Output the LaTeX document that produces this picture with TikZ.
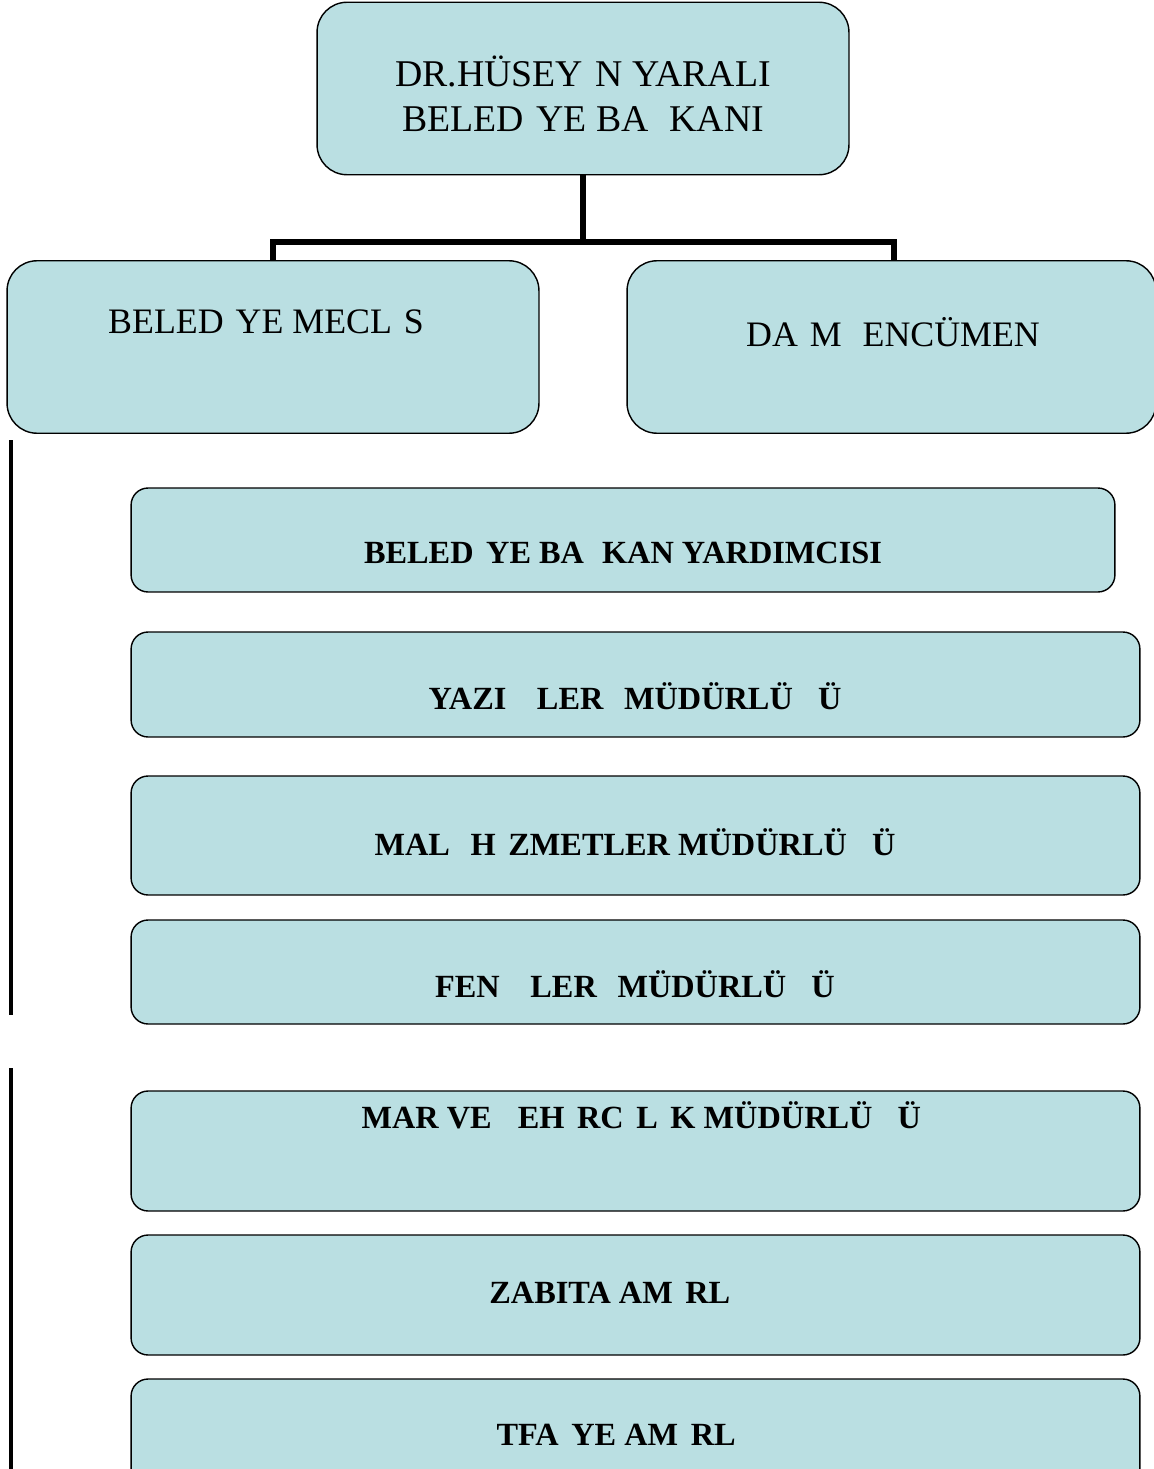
\documentclass[tikz,border=0pt]{standalone}
\usepackage{fontspec}
\setmainfont{Liberation Serif}
\usetikzlibrary{positioning}
\definecolor{boxfill}{RGB}{186,223,226}
\newcommand{\miss}[1]{\phantom{#1}}
\tikzstyle{rec} = [rectangle,draw=black,fill=boxfill,line width=0.8pt]

\begin{document}
\begin{tikzpicture}
		[x=0.02cm,y=-0.02cm,
		big/.style={rec,rounded corners=0.6cm,minimum width=10.64cm,minimum height=3.45cm},
		unit/.style={rec,rounded corners=0.34cm,minimum width=20.18cm},
		plain/.style={anchor=base,inner sep=0pt,align=center,font=\fontsize{20.4}{25.8}\selectfont},
		bold/.style={anchor=base,inner sep=0pt,font=\fontsize{18.4}{22}\selectfont\bfseries},
		link/.style={line width=3.2pt},
		bar/.style={line width=2.6pt}
		]
		\useasboundingbox (0,0) rectangle (1153,1469);
		\node[big](mayor) at (583,88.5) {};
		\node[big](council) at (273,347) {};
		\node[big,minimum width=10.58cm](committee) at (891.5,347) {};
		\node[unit,minimum width=19.68cm,minimum height=2.08cm](deputy) at (623,540) {};
		\node[unit,minimum height=2.1cm](writing) at (635.5,684.5) {};
		\node[unit,minimum height=2.38cm](finance) at (635.5,835.5) {};
		\node[unit,minimum height=2.08cm](works) at (635.5,972) {};
		\node[unit,minimum height=2.4cm](planning) at (635.5,1151) {};
		\node[unit,minimum height=2.4cm](police) at (635.5,1295) {};
		\node[unit,minimum height=2.4cm](fire) at (635.5,1439) {};
		\node[plain,font=\fontsize{21.5}{25.8}\selectfont](mayor_txt) at (583,132) {DR.HÜSEY\miss{İ}N YARALI\\BELED\miss{İ}YE BA\miss{Ş}KANI};
		\node[plain](council_txt) at (272,334) {BELED\miss{İ}YE MECL\miss{İ}S\miss{İ}};
		\node[plain](committee_txt) at (893,347) {DA\miss{İ}M\miss{İ} ENCÜMEN};
		\node[bold](deputy_txt) at (623,563) {BELED\miss{İ}YE BA\miss{Ş}KAN YARDIMCISI};
		\node[bold](writing_txt) at (635,709) {YAZI\miss{İŞ}LER\miss{İ} MÜDÜRLÜ\miss{Ğ}Ü};
		\node[bold](finance_txt) at (635,855) {MAL\miss{İ} H\miss{İ}ZMETLER MÜDÜRLÜ\miss{Ğ}Ü};
		\node[bold](works_txt) at (635,997) {FEN\miss{İŞ}LER\miss{İ} MÜDÜRLÜ\miss{Ğ}Ü};
		\node[bold](planning_txt) at (635,1128) {\miss{İ}MAR VE \miss{Ş}EH\miss{İ}RC\miss{İ}L\miss{İ}K MÜDÜRLÜ\miss{Ğ}Ü};
		\node[bold](police_txt) at (635,1303) {ZABITA AM\miss{İ}RL\miss{İĞİ}};
		\node[bold](fire_txt) at (635,1445) {\miss{İ}TFA\miss{İ}YE AM\miss{İ}RL\miss{İĞİ}};
		\coordinate (bus) at (583,242);
		\draw[link] (mayor.south) -- (bus);
		\draw[link] (council.north) |- (bus) -| ([xshift=0.05cm]committee.north);
		\coordinate (bar1_top) at (11,440);
		\coordinate (bar1_end) at (11,1015);
		\coordinate (bar2_top) at (11,1068);
		\coordinate (bar2_end) at (11,1469);
		\draw[bar] (bar1_top) -- (bar1_end);
		\draw[bar] (bar2_top) -- (bar2_end);
		\end{tikzpicture}
\end{document}
